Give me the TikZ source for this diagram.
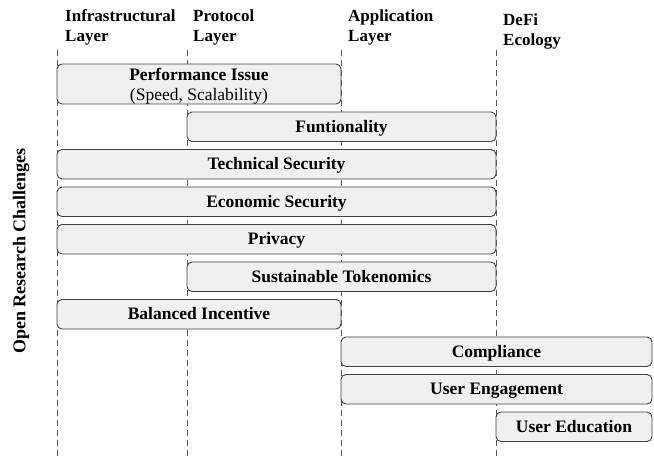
\documentclass[tikz,border=0pt]{standalone}
\usepackage{fontspec}
\setmainfont{Liberation Serif}
\newcommand{\lowtxt}[1]{\raisebox{-1.5pt}[12pt][4pt]{#1}}
\begin{document}
\begin{tikzpicture}[x=1pt,y=-1pt,
  chal/.style={draw=black!75, fill=black!6, rounded corners=5pt, line width=0.9pt,
    inner sep=0pt, font=\fontsize{17.5}{20}\selectfont\bfseries, align=center},
  layer/.style={anchor=north west, inner sep=0pt, align=left,
    font=\fontsize{17}{20}\selectfont\bfseries},
  guide/.style={draw=black!65, dash pattern=on 6pt off 4pt, line width=0.8pt}]
\useasboundingbox (0,0) rectangle (654,459);

% layer guides
\coordinate (g1t) at (57,50);    \coordinate (g1b) at (57,458);
\coordinate (g2t) at (187,50);   \coordinate (g2b) at (187,458);
\coordinate (g3t) at (341.5,50); \coordinate (g3b) at (341.5,458);
\coordinate (g4t) at (496,50);   \coordinate (g4b) at (496,458);
\draw[guide] (g1t) -- (g1b);
\draw[guide] (g2t) -- (g2b);
\draw[guide] (g3t) -- (g3b);
\draw[guide] (g4t) -- (g4b);

% headers
\node[layer] (infra) at (65,9)  {Infrastructural\\Layer};
\node[layer] (proto) at (193,9) {Protocol\\Layer};
\node[layer] (appl)  at (348,9.5) {Application\\Layer};
\node[layer] (defi)  at (503,13) {DeFi\\Ecology};

% side label
\node[rotate=90, inner sep=0pt, font=\fontsize{18}{20}\selectfont\bfseries] (orc) at (21,251) {Open Research Challenges};

% challenges
\node[chal, minimum width=284pt, minimum height=40pt] (perf) at (199,84)
  {\raisebox{-2.5pt}[12pt][4pt]{Performance Issue}\\[-0.5pt]\raisebox{-2.5pt}[12pt][4pt]{\mdseries (Speed, Scalability)}};
\node[chal, minimum width=309pt, minimum height=29.5pt] (fun)  at (341.5,126.75) {\lowtxt{Funtionality}};
\node[chal, minimum width=439pt, minimum height=29.5pt] (tech) at (276.5,164.25) {\lowtxt{Technical Security}};
\node[chal, minimum width=439pt, minimum height=29.5pt] (econ) at (276.5,201.75) {\lowtxt{Economic Security}};
\node[chal, minimum width=439pt, minimum height=29.5pt] (priv) at (276.5,239.25) {\lowtxt{Privacy}};
\node[chal, minimum width=309pt, minimum height=29.5pt] (sust) at (341.5,276.75) {\lowtxt{Sustainable Tokenomics}};
\node[chal, minimum width=284pt, minimum height=29.5pt] (bal)  at (199,314.25) {\lowtxt{Balanced Incentive}};
\node[chal, minimum width=311pt, minimum height=29.5pt] (comp) at (496.5,351.75) {\lowtxt{Compliance}};
\node[chal, minimum width=311pt, minimum height=29.5pt] (eng)  at (496.5,389.25) {\lowtxt{User Engagement}};
\node[chal, minimum width=156pt, minimum height=29.5pt] (edu)  at (574,426.75) {\lowtxt{User Education}};
\end{tikzpicture}
\end{document}
